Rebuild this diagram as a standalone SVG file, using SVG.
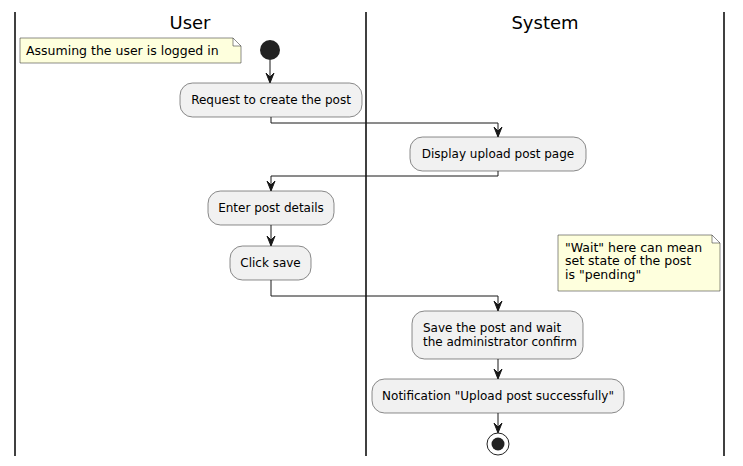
<svg xmlns="http://www.w3.org/2000/svg" width="743" height="466" viewBox="0 0 743 466">
<style>
.lane{stroke:#000;stroke-width:1.5;fill:none}
.title{font-family:"DejaVu Sans",sans-serif;font-size:18px;fill:#000;text-anchor:middle}
.act rect{fill:#F1F1F1;stroke:#181818;stroke-width:0.5}
.act text{font-family:"DejaVu Sans",sans-serif;font-size:12px;fill:#000}
.c{text-anchor:middle}
.note path{fill:#FEFFDD;stroke:#181818;stroke-width:0.5}
.note text{font-family:"DejaVu Sans",sans-serif;font-size:12.5px;fill:#000}
.edge{stroke:#181818;stroke-width:1;fill:none}
.ah{fill:#181818;stroke:#181818;stroke-width:1}
</style>
<g id="lanes">
<line class="lane" x1="15" y1="12" x2="15" y2="456"/>
<line class="lane" x1="366" y1="12" x2="366" y2="456"/>
<line class="lane" x1="724" y1="12" x2="724" y2="456"/>
<text class="title" x="190" y="29">User</text>
<text class="title" x="545" y="29">System</text>
</g>
<g id="note1" class="note">
<path d="M20,38 H233 L241,46 V63 H20 Z M233,38 V46 H241"/>
<text x="26" y="55">Assuming the user is logged in</text>
</g>
<g id="start"><circle cx="270" cy="50" r="10" fill="#222222"/></g>
<g id="a1" class="act"><rect x="180" y="83" width="182" height="34" rx="12.5"/><text class="c" x="271" y="104">Request to create the post</text></g>
<g id="a2" class="act"><rect x="410" y="137" width="176" height="34" rx="12.5"/><text class="c" x="498" y="158">Display upload post page</text></g>
<g id="a3" class="act"><rect x="208" y="191" width="126" height="34" rx="12.5"/><text class="c" x="271" y="212">Enter post details</text></g>
<g id="a4" class="act"><rect x="230" y="246" width="81" height="34" rx="12.5"/><text class="c" x="270.5" y="267">Click save</text></g>
<g id="a5" class="act"><rect x="412" y="311" width="171" height="48" rx="12.5"/><text x="423" y="332">Save the post and wait</text><text x="423" y="346">the administrator confirm</text></g>
<g id="a6" class="act"><rect x="372" y="379" width="252" height="34" rx="12.5"/><text class="c" x="498" y="400">Notification "Upload post successfully"</text></g>
<g id="note2" class="note">
<path d="M558,235 H712 L720,243 V291 H558 Z M712,235 V243 H720"/>
<text x="565" y="251.5">"Wait" here can mean</text>
<text x="565" y="265">set state of the post</text>
<text x="565" y="278.5">is "pending"</text>
</g>
<g id="end"><circle cx="498" cy="444" r="11" fill="none" stroke="#222222" stroke-width="1"/><circle cx="498" cy="444" r="6.5" fill="#222222"/></g>
<g id="connectors">
<path class="edge" d="M270,60 V82"/>
<polygon class="ah" points="266,73 270,83 274,73 270,77"/>
<path class="edge" d="M271,117 V123 H498 V136"/>
<polygon class="ah" points="494,127 498,137 502,127 498,131"/>
<path class="edge" d="M498,171 V176 H271 V190"/>
<polygon class="ah" points="267,181 271,191 275,181 271,185"/>
<path class="edge" d="M271,225 V245"/>
<polygon class="ah" points="267,236 271,246 275,236 271,240"/>
<path class="edge" d="M271,280 V296 H498 V310"/>
<polygon class="ah" points="494,301 498,311 502,301 498,305"/>
<path class="edge" d="M498,359 V378"/>
<polygon class="ah" points="494,369 498,379 502,369 498,373"/>
<path class="edge" d="M498,413 V432"/>
<polygon class="ah" points="494,423 498,433 502,423 498,427"/>
</g>
</svg>
